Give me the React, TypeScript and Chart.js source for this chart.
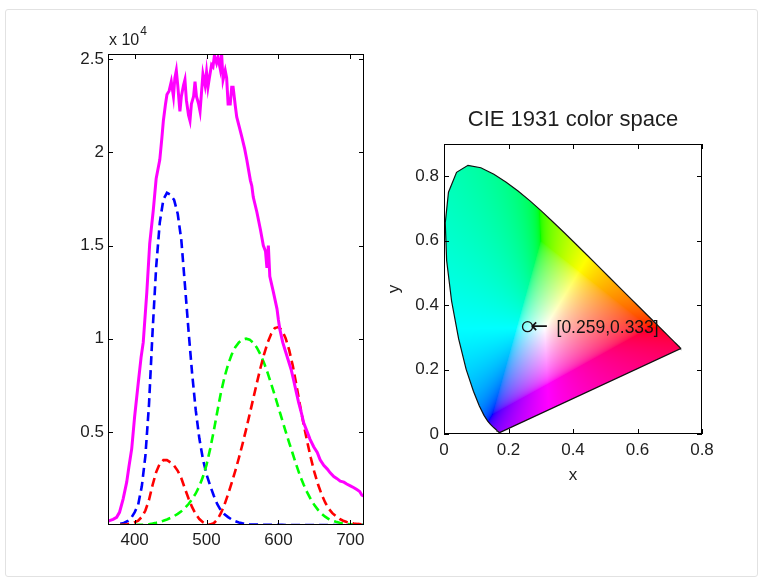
import { useEffect, useRef } from "react";
import { Chart, registerables } from "chart.js";

Chart.register(...registerables);

const FONT = "'Liberation Sans', Arial, Helvetica, sans-serif";
const TEXT = "#1e1e1e";

// ---------- Left plot: measured spectrum (counts) ----------
const spectrumWavelength = [
  363, 365, 370, 375, 379, 384, 389, 392, 396, 400, 405, 409, 412, 417, 421, 426, 430, 435, 438, 440,
  443, 445, 448, 451, 454, 456, 458, 460, 463, 465, 468, 470, 472, 475, 477, 479, 482, 484, 486, 489,
  491, 493, 495, 498, 500, 502, 504, 507, 509, 511, 514, 516, 519, 521, 523, 526, 528, 530, 533, 535,
  537, 540, 542, 546, 549, 553, 556, 561, 563, 565, 570, 575, 579, 582, 584, 586, 588, 593, 598, 600,
  602, 606, 610, 614, 618, 621, 625, 628, 632, 635, 640, 644, 649, 654, 658, 663, 668, 672, 677, 681,
  686, 691, 695, 700, 705, 709, 713, 716, 719,
];
const spectrumCounts = [
  200, 230, 300, 410, 680, 1390, 2300, 3100, 4100, 5800, 7600, 9000, 9800, 12500, 15100, 16900, 18600, 19600, 20800, 21700,
  22600, 23100, 23300, 23800, 23000, 24000, 24400, 23600, 22200, 23000, 23600, 23900, 22800, 22000, 21700, 22600, 23000, 23800, 23000, 22600,
  22200, 23200, 24200, 23600, 24300, 23500, 24000, 24700, 24600, 25200, 24800, 25100, 24500, 25280, 23900, 24400, 24000, 22600, 22600, 23500,
  23500, 22500, 21900, 21300, 20850, 20200, 19600, 18500, 18200, 17600, 16800, 15850, 15000, 14700, 13800, 15000, 13350, 12500, 11600, 11000,
  10500, 9800, 9300, 8800, 8300, 7800, 7100, 6600, 6000, 5500, 5000, 4600, 4200, 3900, 3500, 3200, 3000, 2800, 2600, 2500,
  2350, 2300, 2200, 2100, 2000, 1900, 1800, 1600, 1550,
];

// ---------- Left plot: colour matching functions (x 10^4) ----------
const cmfWavelength = [
  380, 385, 390, 395, 400, 405, 410, 415, 420, 425, 430, 435, 440, 445, 450, 455, 460, 465, 470, 475,
  480, 485, 490, 495, 500, 505, 510, 515, 520, 525, 530, 535, 540, 545, 550, 555, 560, 565, 570, 575,
  580, 585, 590, 595, 600, 605, 610, 615, 620, 625, 630, 635, 640, 645, 650, 655, 660, 665, 670, 675,
  680, 685, 690, 695, 700, 705, 710, 715, 720,
];
const cmfRed = [
  14, 22, 42, 77, 143, 232, 435, 776, 1344, 2148, 2839, 3285, 3483, 3481, 3362, 3187, 2908, 2511, 1954, 1421,
  956, 580, 320, 147, 49, 24, 93, 291, 633, 1096, 1655, 2258, 2904, 3597, 4335, 5121, 5945, 6784, 7621, 8425,
  9163, 9786, 10263, 10567, 10622, 10456, 10026, 9384, 8545, 7514, 6424, 5419, 4479, 3608, 2835, 2187, 1649, 1212, 874, 636,
  468, 329, 227, 158, 114, 81, 58, 41, 29,
];
const cmfGreen = [
  0, 1, 1, 2, 4, 6, 12, 22, 40, 73, 116, 168, 230, 298, 380, 480, 600, 739, 910, 1126,
  1390, 1693, 2080, 2586, 3230, 4073, 5030, 6082, 7100, 7932, 8620, 9149, 9540, 9803, 9950, 10000, 9950, 9786, 9520, 9154,
  8700, 8163, 7570, 6949, 6310, 5668, 5030, 4412, 3810, 3210, 2650, 2170, 1750, 1382, 1070, 816, 610, 446, 320, 232,
  170, 119, 82, 57, 41, 29, 21, 15, 10,
];
const cmfBlue = [
  65, 106, 201, 362, 679, 1102, 2074, 3713, 6456, 10391, 13856, 16230, 17471, 17826, 17721, 17441, 16692, 15281, 12876, 10419,
  8130, 6162, 4652, 3533, 2720, 2123, 1582, 1117, 783, 573, 422, 298, 203, 134, 88, 58, 39, 28, 21, 18,
  17, 14, 11, 10, 8, 6, 3, 2, 2, 1, 1, 0, 0, 0, 0, 0, 0, 0, 0, 0,
  0, 0, 0, 0, 0, 0, 0, 0, 0,
];
const leftXTicks = [400, 500, 600, 700];
const leftYTicks = [5000, 10000, 15000, 20000, 25000];

// ---------- Right plot: CIE 1931 spectral locus ----------
const locusX = [
  0.1741, 0.1740, 0.1738, 0.1736, 0.1733, 0.1730, 0.1726, 0.1721, 0.1714, 0.1703, 0.1689, 0.1669, 0.1644, 0.1611, 0.1566,
  0.1510, 0.1440, 0.1355, 0.1241, 0.1096, 0.0913, 0.0687, 0.0454, 0.0235, 0.0082, 0.0039, 0.0139, 0.0389, 0.0743, 0.1142,
  0.1547, 0.1929, 0.2296, 0.2658, 0.3016, 0.3373, 0.3731, 0.4087, 0.4441, 0.4788, 0.5125, 0.5448, 0.5752, 0.6029, 0.6270,
  0.6482, 0.6658, 0.6801, 0.6915, 0.7006, 0.7079, 0.7140, 0.7190, 0.7230, 0.7260, 0.7283, 0.7300, 0.7311, 0.7320, 0.7327,
  0.7334, 0.7344, 0.7347,
];
const locusY = [
  0.0050, 0.0050, 0.0049, 0.0049, 0.0048, 0.0048, 0.0048, 0.0048, 0.0051, 0.0058, 0.0069, 0.0086, 0.0109, 0.0138, 0.0177,
  0.0227, 0.0297, 0.0399, 0.0578, 0.0868, 0.1327, 0.2007, 0.2950, 0.4127, 0.5384, 0.6548, 0.7502, 0.8120, 0.8338, 0.8262,
  0.8059, 0.7816, 0.7543, 0.7243, 0.6923, 0.6589, 0.6245, 0.5896, 0.5547, 0.5202, 0.4866, 0.4544, 0.4242, 0.3965, 0.3725,
  0.3514, 0.3340, 0.3197, 0.3083, 0.2993, 0.2920, 0.2859, 0.2809, 0.2770, 0.2740, 0.2717, 0.2700, 0.2689, 0.2680, 0.2673,
  0.2666, 0.2656, 0.2653,
];
const markerX = [0.259];
const markerY = [0.333];
const markerArrow = "\u2190";
const markerLabel = "[0.259,0.333]";
const rightXTicks = [0, 0.2, 0.4, 0.6, 0.8];
const rightYTicks = [0, 0.2, 0.4, 0.6, 0.8];

// ---------- plugins ----------
const framePlugin = {
  id: "frame",
  afterDraw(chart: any) {
    const { ctx, chartArea: a, scales } = chart;
    const L = Math.round(a.left), R = Math.round(a.right), T = Math.round(a.top), B = Math.round(a.bottom);
    ctx.save();
    ctx.strokeStyle = "#000";
    ctx.lineWidth = 1;
    ctx.strokeRect(L + 0.5, T + 0.5, R - L - 1, B - T - 1);
    const len = 5;
    ctx.beginPath();
    for (const t of scales.x.ticks) {
      const p = Math.round(scales.x.getPixelForValue(t.value)) + 0.5;
      ctx.moveTo(p, B); ctx.lineTo(p, B - len);
      ctx.moveTo(p, T); ctx.lineTo(p, T + len);
    }
    for (const t of scales.y.ticks) {
      const p = Math.round(scales.y.getPixelForValue(t.value)) + 0.5;
      ctx.moveTo(L, p); ctx.lineTo(L + len, p);
      ctx.moveTo(R, p); ctx.lineTo(R - len, p);
    }
    ctx.stroke();
    ctx.restore();
  },
};

const exponentPlugin = {
  id: "exponent",
  afterDraw(chart: any) {
    const { ctx, chartArea: a } = chart;
    ctx.save();
    ctx.fillStyle = TEXT;
    ctx.textBaseline = "middle";
    ctx.textAlign = "left";
    ctx.font = `16px ${FONT}`;
    const base = "x 10";
    const x0 = a.left + 1;
    ctx.fillText(base, x0, a.top - 13);
    const w = ctx.measureText(base).width;
    ctx.font = `12px ${FONT}`;
    ctx.fillText("4", x0 + w + 1, a.top - 22);
    ctx.restore();
  },
};

function chromaRGB(x: number, y: number): [number, number, number] {
  const yy = Math.max(y, 1e-4);
  const X = x / yy;
  const Y = 1;
  const Z = (1 - x - y) / yy;
  let r = 3.2406 * X - 1.5372 * Y - 0.4986 * Z;
  let g = -0.9689 * X + 1.8758 * Y + 0.0415 * Z;
  let b = 0.0557 * X - 0.204 * Y + 1.057 * Z;
  const mn = Math.min(r, g, b);
  if (mn < 0) { r -= mn; g -= mn; b -= mn; }
  const mx = Math.max(r, g, b) || 1;
  const gam = (c: number) => {
    c = c / mx;
    return c <= 0.0031308 ? 12.92 * c : 1.055 * Math.pow(c, 1 / 2.4) - 0.055;
  };
  return [gam(r) * 255, gam(g) * 255, gam(b) * 255];
}

const chromaFillPlugin = {
  id: "chromaFill",
  beforeDatasetsDraw(chart: any) {
    const { ctx, chartArea: a, scales } = chart;
    const sx = scales.x, sy = scales.y;
    const L = Math.floor(a.left), T = Math.floor(a.top);
    const W = Math.ceil(a.right) - L, H = Math.ceil(a.bottom) - T;
    const off = document.createElement("canvas");
    off.width = W; off.height = H;
    const octx = off.getContext("2d")!;
    const img = octx.createImageData(W, H);
    for (let j = 0; j < H; j++) {
      const cy = sy.getValueForPixel(T + j + 0.5);
      for (let i = 0; i < W; i++) {
        const cx = sx.getValueForPixel(L + i + 0.5);
        const [r, g, b] = chromaRGB(cx, cy);
        const k = (j * W + i) * 4;
        img.data[k] = r; img.data[k + 1] = g; img.data[k + 2] = b; img.data[k + 3] = 255;
      }
    }
    octx.putImageData(img, 0, 0);
    ctx.save();
    ctx.beginPath();
    locusX.forEach((vx, i) => {
      const px = sx.getPixelForValue(vx), py = sy.getPixelForValue(locusY[i]);
      if (i === 0) ctx.moveTo(px, py); else ctx.lineTo(px, py);
    });
    ctx.closePath();
    ctx.clip();
    ctx.drawImage(off, L, T);
    ctx.restore();
  },
};

const markerLabelPlugin = {
  id: "markerLabel",
  afterDatasetsDraw(chart: any) {
    const { ctx, scales } = chart;
    const px = scales.x.getPixelForValue(markerX[0]);
    const py = scales.y.getPixelForValue(markerY[0]);
    ctx.save();
    ctx.fillStyle = "#111";
    ctx.textAlign = "left";
    ctx.textBaseline = "middle";
    ctx.font = `21px 'DejaVu Sans', sans-serif`;
    ctx.fillText(markerArrow, px + 3, py + 1);
    ctx.font = `17.5px ${FONT}`;
    ctx.fillText(markerLabel, px + 29, py + 1);
    ctx.restore();
  },
};

const tickFont = { family: FONT, size: 17 };

function fixTicks(values: number[]) {
  return (scale: any) => {
    scale.ticks = values.map((v) => ({ value: v }));
  };
}

export default function App() {
  const leftRef = useRef<HTMLCanvasElement>(null);
  const rightRef = useRef<HTMLCanvasElement>(null);

  useEffect(() => {
    const line = (xs: number[], ys: number[]) => xs.map((x, i) => ({ x, y: ys[i] }));

    const left = new Chart(leftRef.current!, {
      type: "scatter",
      data: {
        datasets: [
          { label: "Spectrum", data: line(spectrumWavelength, spectrumCounts), showLine: true, borderColor: "#ff00ff", borderWidth: 3, pointRadius: 0, clip: 0 },
          { label: "x-bar", data: line(cmfWavelength, cmfRed), showLine: true, borderColor: "#ff0000", borderWidth: 2.6, borderDash: [9, 5], pointRadius: 0, clip: 0 },
          { label: "y-bar", data: line(cmfWavelength, cmfGreen), showLine: true, borderColor: "#00ff00", borderWidth: 2.6, borderDash: [9, 5], pointRadius: 0, clip: 0 },
          { label: "z-bar", data: line(cmfWavelength, cmfBlue), showLine: true, borderColor: "#0000ff", borderWidth: 2.6, borderDash: [9, 5], pointRadius: 0, clip: 0 },
        ],
      } as any,
      options: {
        responsive: false,
        animation: false,
        devicePixelRatio: 1,
        layout: { padding: { left: 58, right: 398, top: 54, bottom: 27 } },
        plugins: { legend: { display: false }, tooltip: { enabled: false } },
        scales: {
          x: {
            type: "linear", min: 363, max: 719,
            grid: { display: false, drawTicks: false }, border: { display: false },
            ticks: { padding: 5, font: tickFont, color: TEXT, autoSkip: false, maxRotation: 0, callback: (v: any) => String(v) },
            afterBuildTicks: fixTicks(leftXTicks),
            afterFit: (s: any) => { s.height = 30; },
          },
          y: {
            type: "linear", min: 0, max: 25280,
            grid: { display: false, drawTicks: false }, border: { display: false },
            ticks: { padding: 4, font: tickFont, color: TEXT, autoSkip: false, callback: (v: any) => String(Number(v) / 10000) },
            afterBuildTicks: fixTicks(leftYTicks),
            afterFit: (s: any) => { s.width = 50; },
          },
        },
      } as any,
      plugins: [framePlugin, exponentPlugin],
    });

    const locusData = line(locusX.concat([locusX[0]]), locusY.concat([locusY[0]]));
    const right = new Chart(rightRef.current!, {
      type: "scatter",
      data: {
        datasets: [
          { label: "point", data: line(markerX, markerY), pointRadius: 5, pointStyle: "circle", pointBorderColor: "#111", pointBackgroundColor: "rgba(0,0,0,0)", pointBorderWidth: 1.3 },
          { label: "locus", data: locusData, showLine: true, borderColor: "#111", borderWidth: 1.2, pointRadius: 0, clip: 2 },
        ],
      } as any,
      options: {
        responsive: false,
        animation: false,
        devicePixelRatio: 1,
        layout: { padding: { left: 384, right: 60, top: 106.8, bottom: 96 } },
        plugins: {
          legend: { display: false },
          tooltip: { enabled: false },
          title: {
            display: true, text: "CIE 1931 color space", fullSize: false, color: TEXT,
            font: { family: FONT, size: 22, weight: "normal", lineHeight: 1.2 },
            padding: { top: 0, bottom: 10.8 },
          },
        },
        scales: {
          x: {
            type: "linear", min: 0, max: 0.8,
            grid: { display: false, drawTicks: false }, border: { display: false },
            ticks: { padding: 6, font: tickFont, color: TEXT, autoSkip: false, maxRotation: 0, callback: (v: any) => String(Number(v)) },
            title: { display: true, text: "x", color: TEXT, font: { family: FONT, size: 17, lineHeight: 1.2 }, padding: 0 },
            afterBuildTicks: fixTicks(rightXTicks),
            afterFit: (s: any) => { s.height = 52; },
          },
          y: {
            type: "linear", min: 0, max: 0.9,
            grid: { display: false, drawTicks: false }, border: { display: false },
            ticks: { padding: 5, font: tickFont, color: TEXT, autoSkip: false, callback: (v: any) => String(Number(v)) },
            title: { display: true, text: "y", color: TEXT, font: { family: FONT, size: 17, lineHeight: 1.2 }, padding: 0 },
            afterBuildTicks: fixTicks(rightYTicks),
            afterFit: (s: any) => { s.width = 60; },
          },
        },
      } as any,
      plugins: [chromaFillPlugin, framePlugin, markerLabelPlugin],
    });

    return () => {
      left.destroy();
      right.destroy();
    };
  }, []);

  return (
    <div style={{ position: "fixed", left: 0, top: 0, width: 762, height: 582, background: "#fff", overflow: "hidden" }}>
      <div style={{ position: "absolute", left: 5, top: 9, width: 753, height: 568, border: "1px solid #e2e2e2", borderRadius: 3, boxSizing: "border-box" }} />
      <canvas ref={leftRef} width={762} height={582} style={{ position: "absolute", left: 0, top: 0 }} />
      <canvas ref={rightRef} width={762} height={582} style={{ position: "absolute", left: 0, top: 0 }} />
    </div>
  );
}
